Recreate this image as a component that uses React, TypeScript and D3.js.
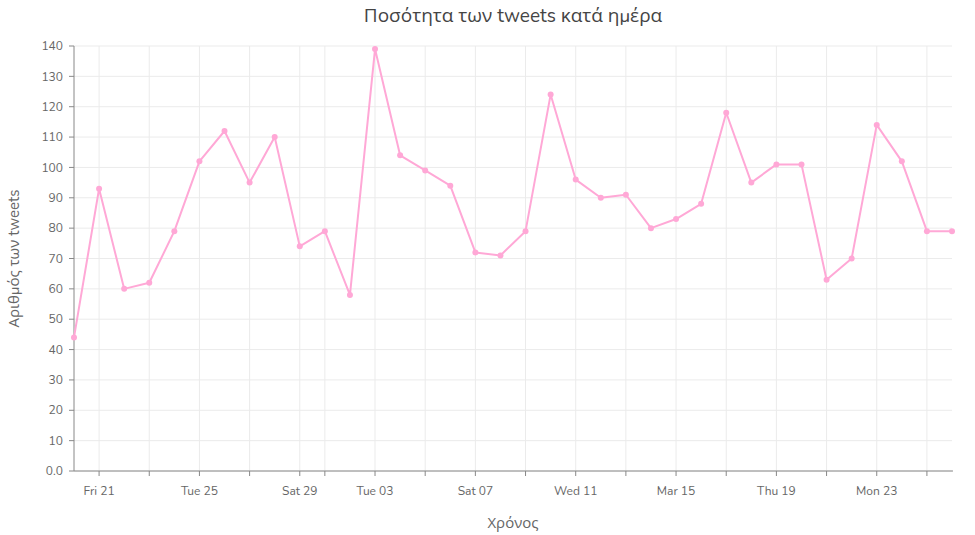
import React, { useEffect, useRef } from "react";
import * as d3 from "d3";

const dates: string[] = [
  "2020-02-20", "2020-02-21", "2020-02-22", "2020-02-23", "2020-02-24", "2020-02-25",
  "2020-02-26", "2020-02-27", "2020-02-28", "2020-02-29", "2020-03-01", "2020-03-02",
  "2020-03-03", "2020-03-04", "2020-03-05", "2020-03-06", "2020-03-07", "2020-03-08",
  "2020-03-09", "2020-03-10", "2020-03-11", "2020-03-12", "2020-03-13", "2020-03-14",
  "2020-03-15", "2020-03-16", "2020-03-17", "2020-03-18", "2020-03-19", "2020-03-20",
  "2020-03-21", "2020-03-22", "2020-03-23", "2020-03-24", "2020-03-25", "2020-03-26",
];
const tweets: number[] = [
  44, 93, 60, 62, 79, 102, 112, 95, 110, 74, 79, 58,
  139, 104, 99, 94, 72, 71, 79, 124, 96, 90, 91, 80,
  83, 88, 118, 95, 101, 101, 63, 70, 114, 102, 79, 79,
];
const xLabelDates: string[] = [
  "2020-02-21", "2020-02-25", "2020-02-29", "2020-03-03", "2020-03-07",
  "2020-03-11", "2020-03-15", "2020-03-19", "2020-03-23",
];
const xLabels: string[] = [
  "Fri 21", "Tue 25", "Sat 29", "Tue 03", "Sat 07", "Wed 11", "Mar 15", "Thu 19", "Mon 23",
];
const yTicks: number[] = [0, 10, 20, 30, 40, 50, 60, 70, 80, 90, 100, 110, 120, 130, 140];
const yTickLabels: string[] = ["0.0", "10", "20", "30", "40", "50", "60", "70", "80", "90", "100", "110", "120", "130", "140"];

const title = "Ποσότητα των tweets κατά ημέρα";
const yTitle = "Αριθμός των tweets";
const xTitle = "Χρόνος";

const parse = d3.timeParse("%Y-%m-%d");

export default function App() {
  const ref = useRef<SVGSVGElement | null>(null);
  useEffect(() => {
    const W = 975, H = 535;
    const m = { left: 74, right: 23, top: 46, bottom: 64 };
    const font = "Nunito, 'Open Sans', Lato, sans-serif";
    const svg = d3.select(ref.current);
    svg.selectAll("*").remove();

    const data = dates.map((d, i) => ({ date: parse(d) as Date, v: tweets[i] }));
    const x = d3.scaleTime()
      .domain([data[0].date, data[data.length - 1].date])
      .range([m.left, W - m.right]);
    const y = d3.scaleLinear().domain([0, 140]).range([H - m.bottom, m.top]);

    const gridTicks = x.ticks(d3.timeDay.every(2) as d3.TimeInterval);

    // grid
    const grid = svg.append("g");
    grid.selectAll("line.h").data(yTicks).join("line")
      .attr("x1", m.left).attr("x2", W - m.right)
      .attr("y1", (d) => y(d)).attr("y2", (d) => y(d))
      .attr("stroke", "#ebebeb").attr("stroke-width", 1);
    grid.selectAll("line.v").data(gridTicks).join("line")
      .attr("x1", (d) => x(d)).attr("x2", (d) => x(d))
      .attr("y1", m.top).attr("y2", H - m.bottom)
      .attr("stroke", "#ebebeb").attr("stroke-width", 1);

    // axes
    const axisColor = "#888";
    svg.append("line").attr("x1", m.left).attr("x2", m.left)
      .attr("y1", m.top).attr("y2", H - m.bottom).attr("stroke", axisColor);
    svg.append("line").attr("x1", m.left).attr("x2", W - m.right + 1)
      .attr("y1", H - m.bottom).attr("y2", H - m.bottom).attr("stroke", axisColor);

    svg.append("g").selectAll("line").data(yTicks).join("line")
      .attr("x1", m.left - 5).attr("x2", m.left)
      .attr("y1", (d) => y(d)).attr("y2", (d) => y(d)).attr("stroke", axisColor);
    svg.append("g").selectAll("text").data(yTicks).join("text")
      .attr("x", m.left - 11).attr("y", (d) => y(d)).attr("dy", "0.35em")
      .attr("text-anchor", "end").attr("font-family", font).attr("font-size", 12)
      .attr("fill", "#666").text((d, i) => yTickLabels[i]);

    svg.append("g").selectAll("line").data(gridTicks).join("line")
      .attr("x1", (d) => x(d)).attr("x2", (d) => x(d))
      .attr("y1", H - m.bottom).attr("y2", H - m.bottom + 5).attr("stroke", axisColor);
    svg.append("g").selectAll("text").data(xLabelDates).join("text")
      .attr("x", (d) => x(parse(d) as Date)).attr("y", H - m.bottom + 24)
      .attr("text-anchor", "middle").attr("font-family", font).attr("font-size", 12)
      .attr("fill", "#666").text((d, i) => xLabels[i]);

    // titles
    svg.append("text").attr("x", (m.left + W - m.right) / 2).attr("y", 22)
      .attr("text-anchor", "middle").attr("font-family", font).attr("font-size", 19)
      .attr("fill", "#444").text(title);
    svg.append("text").attr("x", (m.left + W - m.right) / 2).attr("y", 528)
      .attr("text-anchor", "middle").attr("font-family", font).attr("font-size", 15)
      .attr("fill", "#666").text(xTitle);
    svg.append("text")
      .attr("transform", `translate(19,${(m.top + H - m.bottom) / 2}) rotate(-90)`)
      .attr("text-anchor", "middle").attr("font-family", font).attr("font-size", 15)
      .attr("fill", "#666").text(yTitle);

    // line
    const color = "#ffa8d6";
    const line = d3.line<{ date: Date; v: number }>().x((d) => x(d.date)).y((d) => y(d.v));
    svg.append("path").datum(data).attr("d", line).attr("fill", "none")
      .attr("stroke", color).attr("stroke-width", 2).attr("stroke-linejoin", "round");
    svg.append("g").selectAll("circle").data(data).join("circle")
      .attr("cx", (d) => x(d.date)).attr("cy", (d) => y(d.v)).attr("r", 3)
      .attr("fill", color);
  }, []);
  return (
    <svg ref={ref} width={975} height={535} style={{ display: "block", position: "absolute", left: 0, top: 0 }} />
  );
}
